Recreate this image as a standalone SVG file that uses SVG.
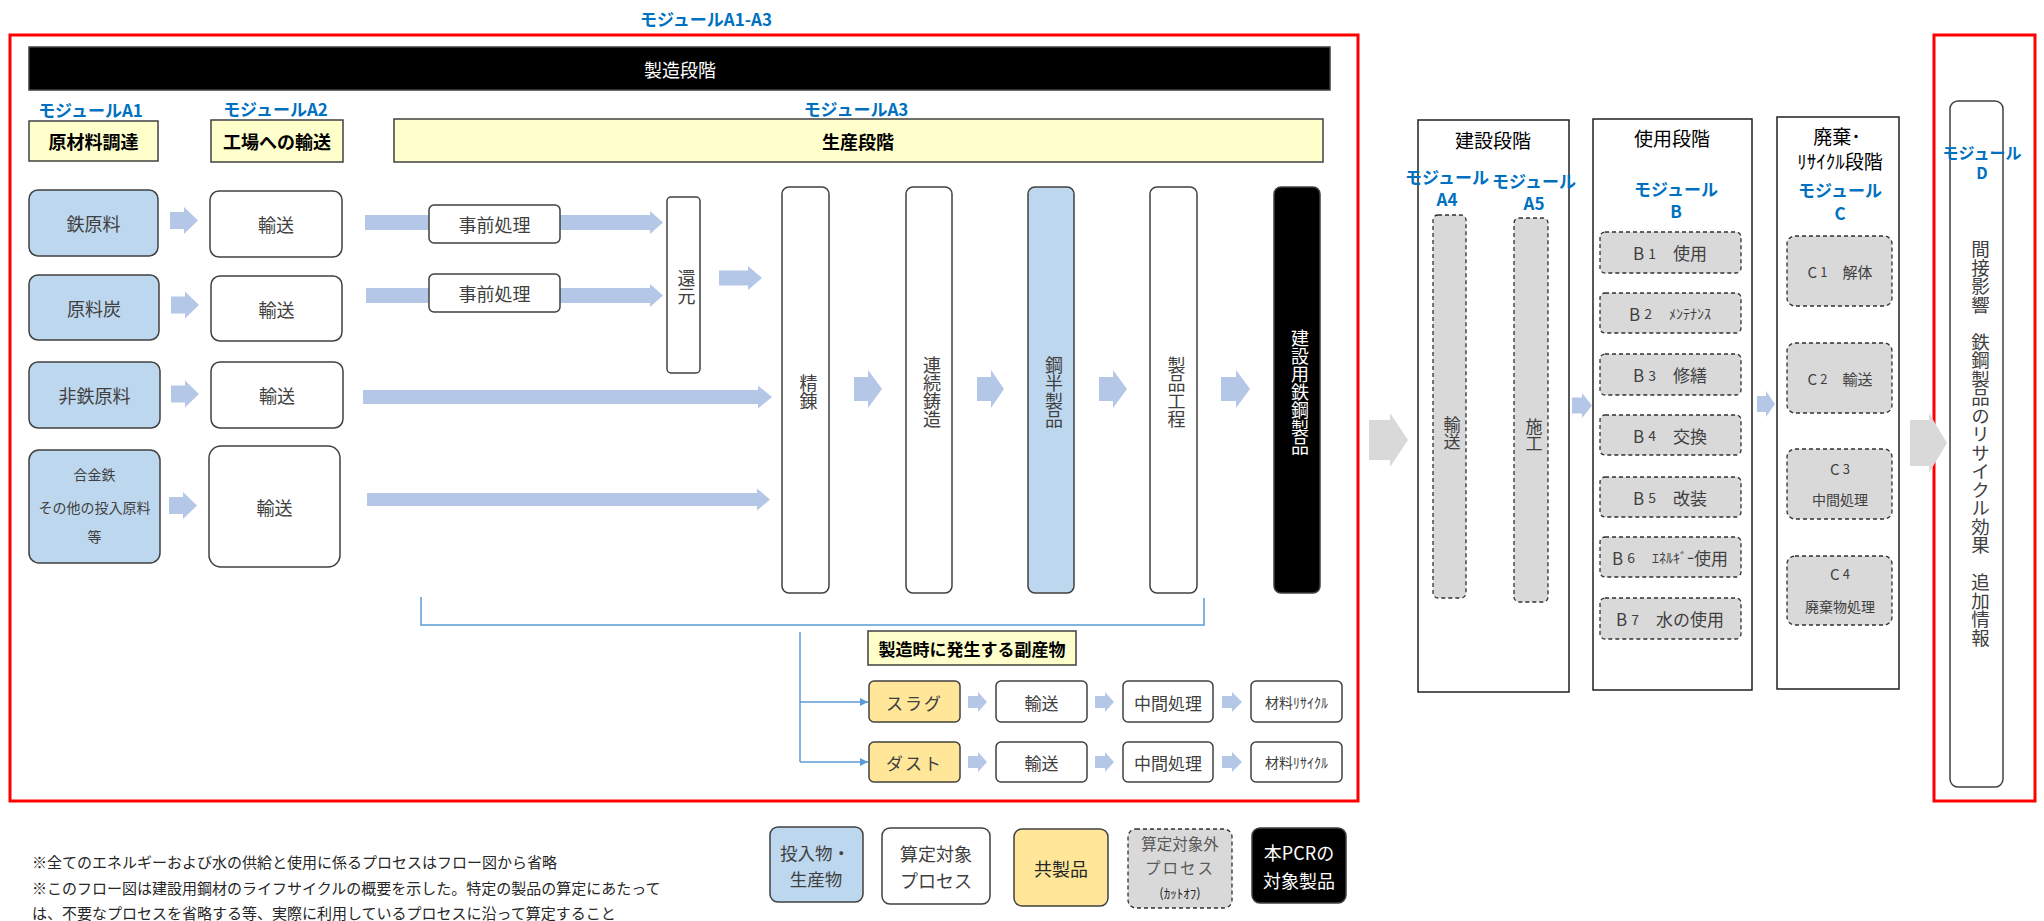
<svg xmlns="http://www.w3.org/2000/svg" width="2044" height="921" viewBox="0 0 2044 921">
<style>
text { font-family: "Noto Sans CJK JP", "Noto Sans", sans-serif; dominant-baseline: central; text-anchor: middle; }
.box { fill:#fff; stroke:#404040; stroke-width:1.5; }
.in { fill:#BDD7EE; stroke:#404040; stroke-width:1.5; }
.hdr { fill:#FFFFCC; stroke:#404040; stroke-width:1.5; }
.co { fill:#FFE699; stroke:#404040; stroke-width:1.5; }
.cut { fill:#D9D9D9; stroke:#303030; stroke-width:1.3; stroke-dasharray:4 3; }
.blk { fill:#000; stroke:#404040; stroke-width:1.5; }
.redbox { fill:none; stroke:#FF0000; stroke-width:3; }
.arr { fill:#B4C7E7; }
.garr { fill:#D9D9D9; }
.ln { fill:none; stroke:#5B9BD5; stroke-width:1.5; }
.mod { fill:#0070C0; font-weight:bold; font-size:17px; }
.hd { fill:#000; font-weight:bold; font-size:18px; }
.st { fill:#000; font-size:19px; }
.lb { fill:#404040; font-size:18px; }
.sm { fill:#404040; font-size:14px; }
.wt { fill:#fff; font-size:18px; }
.gr { fill:#595959; }
.v { writing-mode: vertical-rl; }
.note { fill:#262626; font-size:15px; text-anchor:start; }
</style>
<defs>
<marker id="ah" viewBox="0 0 10 10" refX="10" refY="5" markerWidth="8" markerHeight="8" markerUnits="userSpaceOnUse" orient="auto">
<path d="M0,0 L10,5 L0,10 Z" fill="#5B9BD5"/>
</marker>
</defs>

<g id="frames">
<rect class="redbox" x="10" y="35" width="1348" height="766"/>
<rect class="redbox" x="1934" y="35" width="101" height="766"/>
<text class="mod" x="706" y="18">モジュールA1-A3</text>
</g>

<g id="connectors">
<path class="arr" d="M170 212 H184 V207 L198 220.5 L184 234 V229 H170 Z"/>
<path class="arr" d="M171 296.5 H185 V291.5 L199 305 L185 318.5 V313.5 H171 Z"/>
<path class="arr" d="M171 385.5 H185 V380.5 L199 394 L185 407.5 V402.5 H171 Z"/>
<path class="arr" d="M169 497 H183 V492 L197 505.5 L183 519 V514 H169 Z"/>
<path class="arr" d="M365 215 H650 V211 L663 222.5 L650 234 V230 H365 Z"/>
<path class="arr" d="M366 288 H650 V284 L663 295.5 L650 307 V303 H366 Z"/>
<path class="arr" d="M719 270.5 H748 V266 L762 278 L748 290 V285.5 H719 Z"/>
<path class="arr" d="M363 390 H758 V385.5 L772 397 L758 408.5 V404 H363 Z"/>
<path class="arr" d="M367 493 H757 V488.5 L770 499.5 L757 510.5 V506 H367 Z"/>
<path class="arr" d="M854 377 H868 V370 L882 389 L868 408 V401 H854 Z"/>
<path class="arr" d="M977 377 H991 V370 L1004 389 L991 408 V401 H977 Z"/>
<path class="arr" d="M1099 377 H1113 V370 L1127 389 L1113 408 V401 H1099 Z"/>
<path class="arr" d="M1221 377 H1236 V370 L1250 389 L1236 408 V401 H1221 Z"/>
<path class="ln" d="M421 597 V625 H1204 V598"/>
<path class="ln" d="M800 632 V762"/>
<path class="ln" d="M800 702 H868" marker-end="url(#ah)"/>
<path class="ln" d="M800 762 H868" marker-end="url(#ah)"/>
<path class="arr" d="M968 696 H978 V692 L987 702 L978 712 V708 H968 Z"/>
<path class="arr" d="M1095 696 H1105 V692 L1114 702 L1105 712 V708 H1095 Z"/>
<path class="arr" d="M1222 696 H1232 V692 L1242 702 L1232 712 V708 H1222 Z"/>
<path class="arr" d="M968 756 H978 V752 L987 762 L978 772 V768 H968 Z"/>
<path class="arr" d="M1095 756 H1105 V752 L1114 762 L1105 772 V768 H1095 Z"/>
<path class="arr" d="M1222 756 H1232 V752 L1242 762 L1232 772 V768 H1222 Z"/>
<path class="garr" d="M1369 420 H1390 V413 L1408 440 L1390 467 V460 H1369 Z"/>
<path class="arr" d="M1487 396 H1497 V391 L1506 404 L1497 417 V412 H1487 Z"/>
<path class="arr" d="M1572 397.5 H1582 V393 L1592 405.5 L1582 418 V413.5 H1572 Z"/>
<path class="arr" d="M1757 396 H1766 V391 L1775 404 L1766 417 V412 H1757 Z"/>
<path class="garr" d="M1910 420 H1929 V413 L1947 443 L1929 473 V466 H1910 Z"/>
<path class="arr" d="M1665 275 H1675 V283 H1678 L1670 290 L1662 283 H1665 Z"/>
<path class="arr" d="M1665 336 H1675 V344 H1678 L1670 351 L1662 344 H1665 Z"/>
<path class="arr" d="M1665 397 H1675 V405 H1678 L1670 412 L1662 405 H1665 Z"/>
<path class="arr" d="M1665 458 H1675 V466 H1678 L1670 473 L1662 466 H1665 Z"/>
<path class="arr" d="M1665 519 H1675 V527 H1678 L1670 534 L1662 527 H1665 Z"/>
<path class="arr" d="M1665 580 H1675 V588 H1678 L1670 595 L1662 588 H1665 Z"/>
<path class="arr" d="M1829.5 311 H1847.5 V324 H1854 L1838.5 337 L1823 324 H1829.5 Z"/>
<path class="arr" d="M1829.5 415 H1847.5 V429 H1854 L1838.5 443 L1823 429 H1829.5 Z"/>
<path class="arr" d="M1829.5 523 H1847.5 V537 H1854 L1838.5 550 L1823 537 H1829.5 Z"/>
</g>

<g id="n-manufacturing">
<rect class="blk" x="29" y="47" width="1301" height="43"/>
<text class="wt" x="680" y="69">製造段階</text>
</g>

<g id="n-a1">
<text class="mod" x="90.5" y="109">モジュールA1</text>
<rect class="hdr" x="29" y="121" width="129" height="40"/>
<text class="hd" x="93.5" y="140.5">原材料調達</text>
</g>
<g id="n-a2">
<text class="mod" x="275.5" y="108">モジュールA2</text>
<rect class="hdr" x="211" y="120" width="132" height="42"/>
<text class="hd" x="277" y="140.5">工場への輸送</text>
</g>
<g id="n-a3">
<text class="mod" x="856" y="108">モジュールA3</text>
<rect class="hdr" x="394" y="119" width="929" height="43"/>
<text class="hd" x="858" y="140.5">生産段階</text>
</g>

<g id="n-iron">
<rect class="in" x="29" y="190" width="129" height="66" rx="9"/>
<text class="lb" x="93.5" y="223">鉄原料</text>
</g>
<g id="n-coal">
<rect class="in" x="29" y="275" width="130" height="65" rx="9"/>
<text class="lb" x="94" y="307.5">原料炭</text>
</g>
<g id="n-nonferrous">
<rect class="in" x="29" y="362" width="131" height="66" rx="9"/>
<text class="lb" x="94.5" y="395">非鉄原料</text>
</g>
<g id="n-alloy">
<rect class="in" x="29" y="450" width="131" height="113" rx="10"/>
<text class="sm" x="94.5" y="474">合金鉄</text>
<text class="sm" x="94.5" y="507">その他の投入原料</text>
<text class="sm" x="94.5" y="536">等</text>
</g>

<g id="n-tr1">
<rect class="box" x="210" y="191" width="132" height="66" rx="9"/>
<text class="lb" x="276" y="224">輸送</text>
</g>
<g id="n-tr2">
<rect class="box" x="211" y="276" width="131" height="65" rx="9"/>
<text class="lb" x="276.5" y="308.5">輸送</text>
</g>
<g id="n-tr3">
<rect class="box" x="211" y="362" width="132" height="66" rx="9"/>
<text class="lb" x="277" y="395">輸送</text>
</g>
<g id="n-tr4">
<rect class="box" x="209" y="446" width="131" height="121" rx="12"/>
<text class="lb" x="274.5" y="506.5">輸送</text>
</g>

<g id="n-pre1">
<rect class="box" x="429" y="205" width="131" height="38" rx="5"/>
<text class="lb" x="494.5" y="224">事前処理</text>
</g>
<g id="n-pre2">
<rect class="box" x="429" y="274" width="131" height="38" rx="5"/>
<text class="lb" x="494.5" y="293">事前処理</text>
</g>
<g id="n-reduction">
<rect class="box" x="667" y="197" width="33" height="176" rx="4"/>
<text class="lb v" x="686.5" y="287">還元</text>
</g>
<g id="n-refining">
<rect class="box" x="782" y="187" width="47" height="406" rx="7"/>
<text class="lb v" x="808.5" y="392">精錬</text>
</g>
<g id="n-casting">
<rect class="box" x="906" y="187" width="46" height="406" rx="7"/>
<text class="lb v" x="932" y="392">連続鋳造</text>
</g>
<g id="n-semi">
<rect class="in" x="1028" y="187" width="46" height="406" rx="7"/>
<text class="lb v" x="1054" y="392">鋼半製品</text>
</g>
<g id="n-process">
<rect class="box" x="1150" y="187" width="47" height="406" rx="7"/>
<text class="lb v" x="1176.5" y="392">製品工程</text>
</g>
<g id="n-product">
<rect class="blk" x="1274" y="187" width="46" height="406" rx="7"/>
<text class="wt v" x="1300" y="392">建設用鉄鋼製品</text>
</g>

<g id="n-byproduct">
<rect class="hdr" x="868" y="631" width="208" height="34"/>
<text class="hd" x="972" y="648" style="font-size:17px">製造時に発生する副産物</text>
</g>
<g id="n-slag">
<rect class="co" x="869" y="681" width="91" height="41" rx="5"/>
<text class="lb" x="914.5" y="702" style="font-size:17px;letter-spacing:2px">スラグ</text>
</g>
<g id="n-slag-tr">
<rect class="box" x="996" y="681" width="91" height="41" rx="5"/>
<text class="lb" x="1041.5" y="702" style="font-size:17px">輸送</text>
</g>
<g id="n-slag-mid">
<rect class="box" x="1123" y="681" width="90" height="41" rx="5"/>
<text class="lb" x="1168" y="702" style="font-size:17px">中間処理</text>
</g>
<g id="n-slag-rec">
<rect class="box" x="1251" y="681" width="91" height="41" rx="5"/>
<text class="sm" x="1296.5" y="702">材料ﾘｻｲｸﾙ</text>
</g>
<g id="n-dust">
<rect class="co" x="869" y="742" width="91" height="40" rx="5"/>
<text class="lb" x="914.5" y="762" style="font-size:17px;letter-spacing:2px">ダスト</text>
</g>
<g id="n-dust-tr">
<rect class="box" x="996" y="742" width="91" height="40" rx="5"/>
<text class="lb" x="1041.5" y="762" style="font-size:17px">輸送</text>
</g>
<g id="n-dust-mid">
<rect class="box" x="1123" y="742" width="90" height="40" rx="5"/>
<text class="lb" x="1168" y="762" style="font-size:17px">中間処理</text>
</g>
<g id="n-dust-rec">
<rect class="box" x="1251" y="742" width="91" height="40" rx="5"/>
<text class="sm" x="1296.5" y="762">材料ﾘｻｲｸﾙ</text>
</g>

<g id="n-construction">
<rect class="box" x="1418" y="120" width="151" height="572" style="stroke:#202020"/>
<text class="st" x="1493" y="139">建設段階</text>
<text class="mod" x="1447" y="176">モジュール</text>
<text class="mod" x="1447" y="198">A4</text>
<text class="mod" x="1534" y="180">モジュール</text>
<text class="mod" x="1534" y="202">A5</text>
</g>
<g id="n-a4">
<rect class="cut" x="1433" y="215" width="33" height="383" rx="5"/>
<text class="lb v" x="1452" y="433" style="font-size:17px">輸送</text>
</g>
<g id="n-a5">
<rect class="cut" x="1514" y="218" width="34" height="384" rx="5"/>
<text class="lb v" x="1534" y="435" style="font-size:17px">施工</text>
</g>

<g id="n-use">
<rect class="box" x="1593" y="119" width="159" height="571" style="stroke:#202020"/>
<text class="st" x="1672" y="137">使用段階</text>
<text class="mod" x="1676" y="188">モジュール</text>
<text class="mod" x="1676" y="210">B</text>
</g>
<g id="n-b1"><rect class="cut" x="1600" y="232" width="141" height="41" rx="5"/><text class="lb" x="1670" y="252.5" style="font-size:17px">B<tspan font-size="14" dx="4">1</tspan>　使用</text></g>
<g id="n-b2"><rect class="cut" x="1600" y="293" width="141" height="40" rx="5"/><text class="lb" x="1670" y="313" style="font-size:17px">B<tspan font-size="14" dx="4">2</tspan>　<tspan font-size="14">ﾒﾝﾃﾅﾝｽ</tspan></text></g>
<g id="n-b3"><rect class="cut" x="1600" y="354" width="141" height="41" rx="5"/><text class="lb" x="1670" y="374.5" style="font-size:17px">B<tspan font-size="14" dx="4">3</tspan>　修繕</text></g>
<g id="n-b4"><rect class="cut" x="1600" y="415" width="141" height="40" rx="5"/><text class="lb" x="1670" y="435" style="font-size:17px">B<tspan font-size="14" dx="4">4</tspan>　交換</text></g>
<g id="n-b5"><rect class="cut" x="1600" y="477" width="141" height="40" rx="5"/><text class="lb" x="1670" y="497" style="font-size:17px">B<tspan font-size="14" dx="4">5</tspan>　改装</text></g>
<g id="n-b6"><rect class="cut" x="1600" y="537" width="141" height="40" rx="5"/><text class="lb" x="1670" y="557" style="font-size:17px">B<tspan font-size="14" dx="4">6</tspan>　<tspan font-size="14">ｴﾈﾙｷﾞｰ</tspan>使用</text></g>
<g id="n-b7"><rect class="cut" x="1600" y="598" width="141" height="41" rx="5"/><text class="lb" x="1670" y="618.5" style="font-size:17px">B<tspan font-size="14" dx="4">7</tspan>　水の使用</text></g>

<g id="n-eol">
<rect class="box" x="1777" y="117" width="122" height="572" style="stroke:#202020"/>
<text class="st" x="1837" y="135">廃棄･</text>
<text class="st" x="1840" y="160">ﾘｻｲｸﾙ段階</text>
<text class="mod" x="1840" y="189">モジュール</text>
<text class="mod" x="1840" y="212">C</text>
</g>
<g id="n-c1"><rect class="cut" x="1787" y="236" width="105" height="70" rx="8"/><text class="lb" x="1840" y="271" style="font-size:15px">C<tspan font-size="13" dx="3">1</tspan>　解体</text></g>
<g id="n-c2"><rect class="cut" x="1787" y="343" width="105" height="70" rx="8"/><text class="lb" x="1840" y="378" style="font-size:15px">C<tspan font-size="13" dx="3">2</tspan>　輸送</text></g>
<g id="n-c3"><rect class="cut" x="1787" y="449" width="105" height="70" rx="8"/><text class="lb" x="1840" y="468" style="font-size:15px">C<tspan font-size="13" dx="3">3</tspan></text><text class="lb" x="1840" y="499" style="font-size:14px">中間処理</text></g>
<g id="n-c4"><rect class="cut" x="1787" y="556" width="105" height="69" rx="8"/><text class="lb" x="1840" y="573" style="font-size:15px">C<tspan font-size="13" dx="3">4</tspan></text><text class="lb" x="1840" y="606" style="font-size:14px">廃棄物処理</text></g>

<g id="n-d">
<rect class="box" x="1950" y="101" width="53" height="686" rx="8"/>
<text class="mod" x="1982" y="152" style="font-size:16px">モジュール</text>
<text class="mod" x="1982" y="172" style="font-size:16px">D</text>
<text class="lb v" x="1980.5" y="240" style="text-anchor:start;font-size:18.5px">間接影響　鉄鋼製品のリサイクル効果　追加情報</text>
</g>

<g id="legend">
<rect class="in" x="770" y="827" width="93" height="75" rx="8"/>
<text class="lb" x="815" y="852" style="font-size:17.5px">投入物・</text>
<text class="lb" x="816" y="878" style="font-size:17.5px">生産物</text>
<rect class="box" x="882" y="828" width="108" height="76" rx="8"/>
<text class="lb" x="936" y="853">算定対象</text>
<text class="lb" x="936" y="880">プロセス</text>
<rect class="co" x="1014" y="829" width="94" height="77" rx="8"/>
<text class="st" x="1061" y="868" style="font-size:18px;fill:#262626">共製品</text>
<rect class="cut" x="1128" y="829" width="104" height="79" rx="8"/>
<text class="lb gr" x="1180" y="843" style="font-size:15.5px">算定対象外</text>
<text class="lb gr" x="1180" y="867" style="font-size:15.5px;letter-spacing:2px">プロセス</text>
<text class="sm" x="1180" y="892" style="font-size:13px;fill:#262626">(ｶｯﾄｵﾌ)</text>
<rect class="blk" x="1252" y="828" width="94" height="75" rx="8"/>
<text class="wt" x="1299" y="852">本PCRの</text>
<text class="wt" x="1299" y="880">対象製品</text>
</g>

<g id="notes">
<text class="note" x="32" y="861">※全てのエネルギーおよび水の供給と使用に係るプロセスはフロー図から省略</text>
<text class="note" x="32" y="887">※このフロー図は建設用鋼材のライフサイクルの概要を示した。特定の製品の算定にあたって</text>
<text class="note" x="32" y="912">は、不要なプロセスを省略する等、実際に利用しているプロセスに沿って算定すること</text>
</g>
</svg>
